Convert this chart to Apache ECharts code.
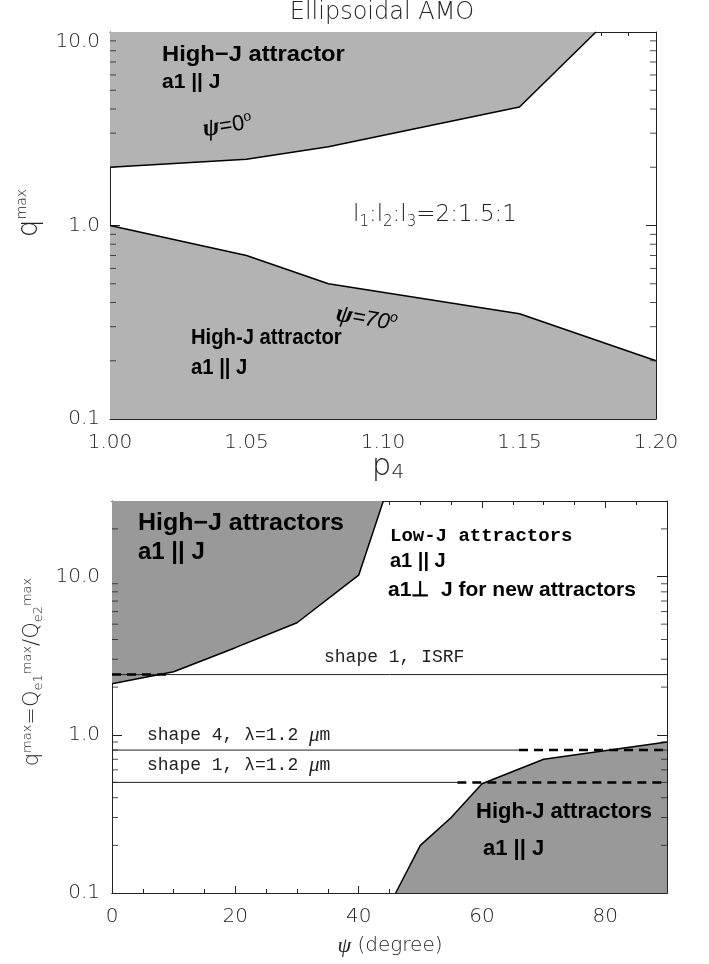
<!DOCTYPE html>
<html>
<head>
<meta charset="utf-8"/>
<title>Ellipsoidal AMO</title>
<script src="https://cdn.jsdelivr.net/npm/echarts@6/dist/echarts.min.js"></script>
<style>html,body{margin:0;padding:0;background:#fff}</style>
</head>
<body>
<div id="myChart" style="width:709px;height:964px"></div>
<script>
// ---- top panel: q^max against p4 ----
var p4Up = [1.00, 1.05, 1.08, 1.15, 1.178];
var qPsi0 = [2.0, 2.2, 2.55, 4.1, 10];
var p4Low = [1.00, 1.05, 1.08, 1.15, 1.20];
var qPsi70 = [1.0, 0.7, 0.5, 0.35, 0.2];

// ---- bottom panel: q^max against psi ----
var psiHighA = [0, 10, 20, 30, 40, 44];
var qHighA = [2.1, 2.5, 3.55, 5.1, 10.2, 30];
var psiHighB = [46, 50, 55, 60, 70, 90];
var qHighB = [0.1, 0.2, 0.3, 0.49, 0.7, 0.9];

// reference levels (q) and their solid / dashed psi ranges
var qIsrf = 2.4, qShape4 = 0.8, qShape1 = 0.5;
var isrfSolid = [0, 90], isrfDash = [0, 9];
var shape4Solid = [0, 66], shape4Dash = [66, 90];
var shape1Solid = [0, 56], shape1Dash = [56, 90];

// ---- ticks ----
var yTickVals = [0.1, 1, 10];
var yTickText = ['0.1', '1.0', '10.0'];
var yMinorTop = [0.2, 0.3, 0.4, 0.5, 0.6, 0.7, 0.8, 0.9, 2, 3, 4, 5, 6, 7, 8, 9];
var yMinorBot = [0.2, 0.3, 0.4, 0.5, 0.6, 0.7, 0.8, 0.9, 2, 3, 4, 5, 6, 7, 8, 9, 20];
var xTickVals1 = [1.00, 1.05, 1.10, 1.15, 1.20];
var xTickText1 = ['1.00', '1.05', '1.10', '1.15', '1.20'];
var xTickVals2 = [0, 20, 40, 60, 80];
var xTickText2 = ['0', '20', '40', '60', '80'];

var INK = '#222';
var THIN = 'DejaVu Sans';
var BOLD = 'Liberation Sans';

function lookup(vals, texts, topRich) {
    return function (v) {
        for (var i = 0; i < vals.length; i++) {
            if (Math.abs(v - vals[i]) < 1e-6 * Math.max(1, Math.abs(vals[i]))) {
                // top label of the upper panel sits a little below its tick
                if (topRich && i === vals.length - 1) return '{d|' + texts[i] + '}';
                return texts[i];
            }
        }
        return '';
    };
}
function pairs(xs, ys) {
    return xs.map(function (x, i) { return [x, ys[i]]; });
}
function hline(xs, q) {
    return [[xs[0], q], [xs[1], q]];
}

function xAx(g, pos, min, max, interval, minorSplit, labels, fmt, tickLen) {
    return {
        gridIndex: g, type: 'value', position: pos, min: min, max: max, interval: interval,
        axisLine: {show: true, onZero: false, lineStyle: {color: INK, width: 1}},
        axisTick: {show: true, inside: true, length: tickLen, lineStyle: {color: INK}},
        minorTick: {show: minorSplit > 0, splitNumber: minorSplit || 5, length: 4, lineStyle: {color: INK}},
        splitLine: {show: false},
        axisLabel: {show: labels, showMaxLabel: labels, margin: 14, fontSize: 20, fontFamily: THIN,
            fontWeight: 200, color: INK, formatter: fmt}
    };
}
function yAx(g, pos, max, labels, margin, topRich) {
    return {
        gridIndex: g, type: 'log', logBase: 10, min: 0.1, max: max, position: pos,
        axisLine: {show: true, onZero: false, lineStyle: {color: INK, width: 1}},
        axisTick: {show: true, inside: true, length: 10, lineStyle: {color: INK}},
        splitLine: {show: false},
        axisLabel: {show: labels, showMaxLabel: true, showMinLabel: true, margin: margin, fontSize: 20,
            fontFamily: THIN, fontWeight: 200, color: INK,
            formatter: lookup(yTickVals, yTickText, topRich),
            rich: {d: {fontSize: 20, fontFamily: THIN, color: INK, padding: [20, 0, 0, 0]}}}
    };
}
function minorTicks(xi, yi, x, vals, off) {
    return {
        type: 'scatter', xAxisIndex: xi, yAxisIndex: yi, clip: false, silent: true, z: 6,
        symbol: 'rect', symbolSize: [6, 1], symbolOffset: [off, 0],
        itemStyle: {color: INK},
        data: vals.map(function (v) { return [x, v]; })
    };
}
function area(xi, yi, data, origin, fill) {
    return {
        type: 'line', xAxisIndex: xi, yAxisIndex: yi, data: data, showSymbol: false, silent: true, z: 2,
        lineStyle: {color: '#000', width: 1.5},
        areaStyle: {origin: origin, color: fill, opacity: 1}
    };
}
function level(data, dashed) {
    return {
        type: 'line', xAxisIndex: 2, yAxisIndex: 2, data: data, showSymbol: false, silent: true, z: 3,
        lineStyle: dashed ? {color: '#000', width: 2.5, type: [9, 6]} : {color: INK, width: 1}
    };
}

var myChart = echarts.init(document.getElementById('myChart'), null, {renderer: 'canvas'});
var option = {
    animation: false,
    backgroundColor: '#fff',
    grid: [
        {left: 110, top: 32, width: 546, height: 387},
        {left: 112, top: 501, width: 555, height: 392}
    ],
    xAxis: [
        xAx(0, 'bottom', 1.0, 1.2, 0.05, 5, true, lookup(xTickVals1, xTickText1), 7),
        xAx(0, 'top', 1.0, 1.2, 0.05, 5, false, null, 7),
        xAx(1, 'bottom', 0, 90, 20, 0, true, lookup(xTickVals2, xTickText2), 7),
        xAx(1, 'bottom', 0, 90, 5, 0, false, null, 4),
        xAx(1, 'top', 0, 90, 20, 0, false, null, 7),
        xAx(1, 'top', 0, 90, 5, 0, false, null, 4)
    ],
    yAxis: [
        yAx(0, 'left', 10, true, 10, true),
        yAx(0, 'right', 10, false, 10, false),
        yAx(1, 'left', 30, true, 12, false),
        yAx(1, 'right', 30, false, 12, false)
    ],
    series: [
        area(0, 0, pairs(p4Up, qPsi0), 'end', '#b3b3b3'),
        area(0, 0, pairs(p4Low, qPsi70), 'start', '#b3b3b3'),
        minorTicks(0, 0, 1.0, yMinorTop, 3),
        minorTicks(0, 0, 1.2, yMinorTop, -3),

        area(2, 2, pairs(psiHighA, qHighA), 'end', '#999999'),
        area(2, 2, pairs(psiHighB, qHighB), 'start', '#999999'),
        level(hline(isrfSolid, qIsrf), false),
        level(hline(isrfDash, qIsrf), true),
        level(hline(shape4Solid, qShape4), false),
        level(hline(shape4Dash, qShape4), true),
        level(hline(shape1Solid, qShape1), false),
        level(hline(shape1Dash, qShape1), true),
        minorTicks(2, 2, 0, yMinorBot, 3),
        minorTicks(2, 2, 90, yMinorBot, -3)
    ],
    graphic: [
        {type: 'text', x: 382, y: 13, z: 20, style: {text: 'Ellipsoidal AMO', fill: INK,
            fontFamily: THIN, fontWeight: 200, fontSize: 24, align: 'center', verticalAlign: 'middle'}},
        // top panel
        {type: 'text', x: 162, y: 55, z: 20, scaleX: 1.08, style: {text: 'High\u2212J attractor', fill: '#000',
            fontFamily: BOLD, fontWeight: 'bold', fontSize: 22, verticalAlign: 'middle'}},
        {type: 'text', x: 162, y: 82, z: 20, style: {text: 'a1 || J', fill: '#000',
            fontFamily: BOLD, fontWeight: 'bold', fontSize: 21, verticalAlign: 'middle'}},
        {type: 'text', x: 203, y: 130, z: 20, rotation: 0.16, style: {text: '{g|\u03c8}{n|=0}{s|o}',
            verticalAlign: 'middle', rich: {
                g: {fontFamily: 'Liberation Serif', fontStyle: 'italic', fontWeight: 'bold', fontSize: 25, fill: '#000', lineHeight: 26},
                n: {fontFamily: BOLD, fontSize: 22, fill: '#000', lineHeight: 26},
                s: {fontFamily: BOLD, fontSize: 14, fill: '#000', verticalAlign: 'top', lineHeight: 13}}}},
        {type: 'text', x: 353, y: 215, z: 20, style: {text: '{n|l}{b|1}{n|:l}{b|2}{n|:l}{b|3}{n|=2:1.5:1}',
            verticalAlign: 'middle', rich: {
                n: {fontFamily: THIN, fontWeight: 200, fontSize: 23, fill: INK, lineHeight: 30},
                b: {fontFamily: THIN, fontWeight: 200, fontSize: 15, fill: INK, verticalAlign: 'bottom', lineHeight: 16}}}},
        {type: 'text', x: 336, y: 314, z: 20, rotation: -0.17, style: {text: '{g|\u03c8}{n|=70}{s|o}',
            verticalAlign: 'middle', rich: {
                g: {fontFamily: 'Liberation Serif', fontStyle: 'italic', fontWeight: 'bold', fontSize: 25, fill: '#000', lineHeight: 26},
                n: {fontFamily: BOLD, fontStyle: 'italic', fontSize: 22, fill: '#000', lineHeight: 26},
                s: {fontFamily: BOLD, fontStyle: 'italic', fontSize: 14, fill: '#000', verticalAlign: 'top', lineHeight: 13}}}},
        {type: 'text', x: 191, y: 338, z: 20, scaleX: 0.92, style: {text: 'High-J attractor', fill: '#000',
            fontFamily: BOLD, fontWeight: 'bold', fontSize: 22, verticalAlign: 'middle'}},
        {type: 'text', x: 191, y: 368, z: 20, scaleX: 0.92, style: {text: 'a1 || J', fill: '#000',
            fontFamily: BOLD, fontWeight: 'bold', fontSize: 22, verticalAlign: 'middle'}},
        {type: 'text', x: 30, y: 213, z: 20, rotation: Math.PI / 2, style: {text: '{n|q}{s|max}',
            align: 'center', verticalAlign: 'middle', rich: {
                n: {fontFamily: THIN, fontWeight: 200, fontSize: 28, fill: INK, lineHeight: 30},
                s: {fontFamily: THIN, fontWeight: 200, fontSize: 14, fill: INK, verticalAlign: 'top', lineHeight: 14}}}},
        {type: 'text', x: 388, y: 467, z: 20, style: {text: '{n|p}{b|4}',
            align: 'center', verticalAlign: 'middle', rich: {
                n: {fontFamily: THIN, fontWeight: 200, fontSize: 31, fill: INK, lineHeight: 32},
                b: {fontFamily: THIN, fontWeight: 200, fontSize: 20, fill: INK, verticalAlign: 'bottom', lineHeight: 19}}}},
        // bottom panel
        {type: 'text', x: 138, y: 523, z: 20, scaleX: 1.04, style: {text: 'High\u2212J attractors', fill: '#000',
            fontFamily: BOLD, fontWeight: 'bold', fontSize: 24, verticalAlign: 'middle'}},
        {type: 'text', x: 138, y: 552, z: 20, style: {text: 'a1 || J', fill: '#000',
            fontFamily: BOLD, fontWeight: 'bold', fontSize: 24, verticalAlign: 'middle'}},
        {type: 'text', x: 390, y: 536, z: 20, style: {text: 'Low-J attractors', fill: '#000',
            fontFamily: 'Liberation Mono', fontWeight: 'bold', fontSize: 19, verticalAlign: 'middle'}},
        {type: 'text', x: 390, y: 561, z: 20, style: {text: 'a1 || J', fill: '#000',
            fontFamily: BOLD, fontWeight: 'bold', fontSize: 20, verticalAlign: 'middle'}},
        {type: 'text', x: 388, y: 590, z: 20, style: {text: 'a1\u22a5  J for new attractors', fill: '#000',
            fontFamily: BOLD, fontWeight: 'bold', fontSize: 21, verticalAlign: 'middle'}},
        {type: 'text', x: 324, y: 657, z: 20, style: {text: 'shape 1, ISRF', fill: INK,
            fontFamily: 'Liberation Mono', fontSize: 18, verticalAlign: 'middle'}},
        {type: 'text', x: 147, y: 735, z: 20, style: {text: '{n|shape 4, \u03bb=1.2 }{m|\u03bc}{n|m}',
            verticalAlign: 'middle', rich: {
                n: {fontFamily: 'Liberation Mono', fontSize: 18, fill: INK},
                m: {fontFamily: 'Liberation Serif', fontStyle: 'italic', fontSize: 21, fill: INK}}}},
        {type: 'text', x: 147, y: 765, z: 20, style: {text: '{n|shape 1, \u03bb=1.2 }{m|\u03bc}{n|m}',
            verticalAlign: 'middle', rich: {
                n: {fontFamily: 'Liberation Mono', fontSize: 18, fill: INK},
                m: {fontFamily: 'Liberation Serif', fontStyle: 'italic', fontSize: 21, fill: INK}}}},
        {type: 'text', x: 476, y: 812, z: 20, style: {text: 'High-J attractors', fill: '#000',
            fontFamily: BOLD, fontWeight: 'bold', fontSize: 22, verticalAlign: 'middle'}},
        {type: 'text', x: 483, y: 849, z: 20, style: {text: 'a1 || J', fill: '#000',
            fontFamily: BOLD, fontWeight: 'bold', fontSize: 22, verticalAlign: 'middle'}},
        {type: 'text', x: 33, y: 672, z: 20, rotation: Math.PI / 2, style: {
            text: '{n|q}{s|max}{n|=Q}{b|e1}{s|max}{n|/Q}{b|e2}{s|max}',
            align: 'center', verticalAlign: 'middle', rich: {
                n: {fontFamily: THIN, fontWeight: 200, fontSize: 21, fill: INK, lineHeight: 24},
                s: {fontFamily: THIN, fontWeight: 200, fontSize: 13, fill: INK, verticalAlign: 'top', lineHeight: 13},
                b: {fontFamily: THIN, fontWeight: 200, fontSize: 13, fill: INK, verticalAlign: 'bottom', lineHeight: 13}}}},
        {type: 'text', x: 390, y: 946, z: 20, style: {text: '{g|\u03c8}{n| (degree)}',
            align: 'center', verticalAlign: 'middle', rich: {
                g: {fontFamily: 'Liberation Serif', fontStyle: 'italic', fontSize: 22, fill: INK},
                n: {fontFamily: THIN, fontWeight: 200, fontSize: 20, fill: INK}}}}
    ]
};
myChart.setOption(option);
</script>
</body>
</html>
